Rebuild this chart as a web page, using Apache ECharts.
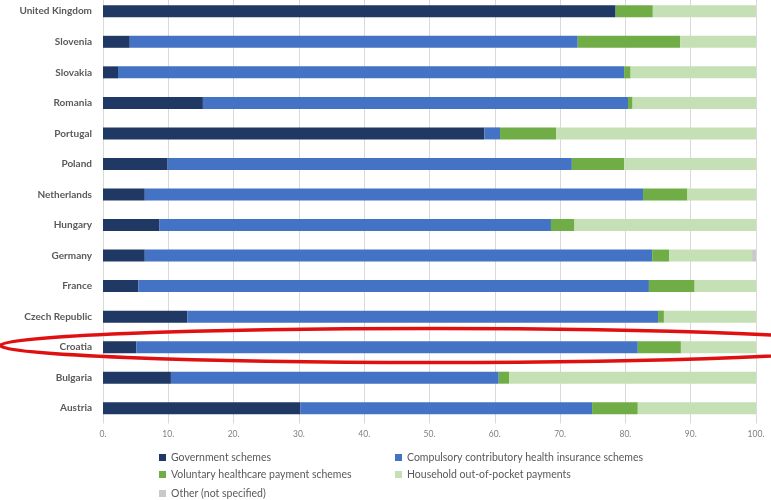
<!DOCTYPE html>
<html>
<head>
<meta charset="utf-8">
<script src="https://cdn.jsdelivr.net/npm/echarts@6/dist/echarts.min.js"></script>
<style>
  html, body { margin: 0; padding: 0; background: #fff; }
  #chart { width: 771px; height: 500px; }
</style>
</head>
<body>
<div id="chart"></div>
<script>
// countries, top to bottom
const countries = ["United Kingdom", "Slovenia", "Slovakia", "Romania", "Portugal", "Poland",
  "Netherlands", "Hungary", "Germany", "France", "Czech Republic", "Croatia", "Bulgaria", "Austria"]

// share of health expenditure (%) by financing scheme
const government = [78.5, 4.1, 2.3, 15.3, 58.4, 9.9, 6.4, 8.6, 6.4, 5.4, 12.9, 5.1, 10.4, 30.2]
const compulsory = [0, 68.6, 77.5, 65.1, 2.4, 61.9, 76.3, 60.0, 77.7, 78.2, 72.1, 76.8, 50.2, 44.7]
const voluntary = [5.7, 15.7, 1.0, 0.7, 8.6, 8.0, 6.8, 3.6, 2.6, 7.0, 0.9, 6.6, 1.6, 7.0]
const outOfPocket = [15.8, 11.6, 19.2, 18.9, 30.6, 20.2, 10.5, 27.8, 12.7, 9.4, 14.1, 11.5, 37.8, 18.1]
const other = [0, 0, 0, 0, 0, 0, 0, 0, 0.6, 0, 0, 0, 0, 0]

const seriesDefs = [
  { name: "Government schemes", data: government, color: "#203864" },
  { name: "Compulsory contributory health insurance schemes", data: compulsory, color: "#4472C4" },
  { name: "Voluntary healthcare payment schemes", data: voluntary, color: "#70AD47" },
  { name: "Household out-of-pocket payments", data: outOfPocket, color: "#C5E0B4" },
  { name: "Other (not specified)", data: other, color: "#C9C9C9" },
]

// legend spots (two columns, like the original)
const legendSpots = [
  { left: 154, top: 447 },
  { left: 390, top: 447 },
  { left: 154, top: 464 },
  { left: 390, top: 464 },
  { left: 154, top: 483 },
]

const chart = echarts.init(document.getElementById("chart"))

const option = {
  animation: false,
  textStyle: { fontFamily: "Lato" },
  grid: { left: 103, right: 15, top: -4, height: 427.5, outerBoundsMode: "none" },
  legend: seriesDefs.map((s, i) => ({
    data: [s.name],
    left: legendSpots[i].left,
    top: legendSpots[i].top,
    itemWidth: 7,
    itemHeight: 7,
    icon: "rect",
    textStyle: { color: "#595959", fontSize: 10.5, fontFamily: "Lato" },
  })),
  xAxis: {
    type: "value",
    min: 0,
    max: 100,
    interval: 10,
    axisLine: { show: false },
    axisTick: { show: false },
    axisLabel: {
      color: "#7f7f7f",
      fontSize: 8.5,
      margin: 6,
      formatter: (v) => v + ".",
    },
    splitLine: { show: true, lineStyle: { color: "#d9d9d9", width: 1 } },
  },
  yAxis: {
    type: "category",
    inverse: true,
    data: countries,
    axisLine: { show: false },
    axisTick: { show: false },
    axisLabel: { color: "#595959", fontSize: 10, fontWeight: "bold", margin: 11 },
  },
  series: seriesDefs.map((s) => ({
    name: s.name,
    type: "bar",
    stack: "total",
    barWidth: 12,
    data: s.data,
    itemStyle: { color: s.color },
  })),
  graphic: [
    {
      type: "ellipse",
      shape: { cx: 432, cy: 345.5, rx: 432, ry: 17 },
      style: { fill: "none", stroke: "#e01010", lineWidth: 3.5 },
      z: 100,
    },
  ],
}

chart.setOption(option)
</script>
</body>
</html>
